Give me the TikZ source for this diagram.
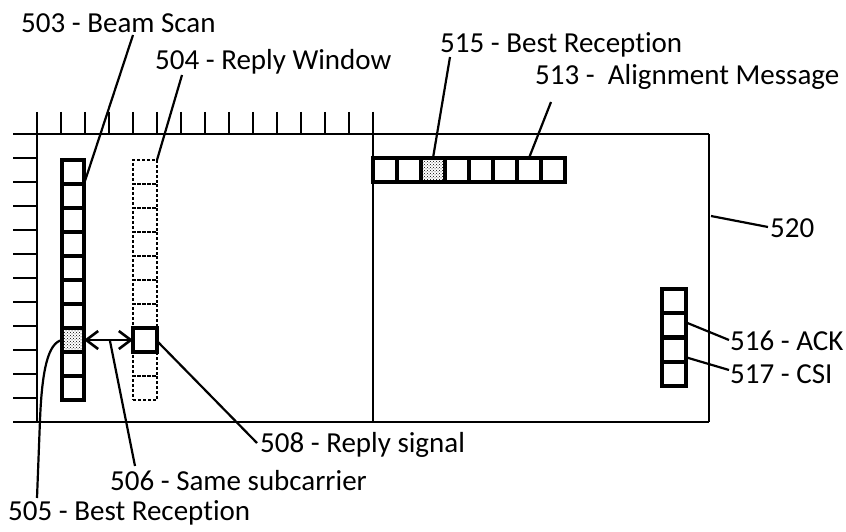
\documentclass[tikz,border=0pt]{standalone}
\usepackage{fontspec}
\setmainfont{Carlito}[RawFeature={-liga}]
\usetikzlibrary{patterns,arrows.meta}
\begin{document}
\begin{tikzpicture}[x=1pt,y=-1pt,
  frame/.style={line width=2.2pt},
  tickline/.style={line width=2pt},
  cell/.style={draw,line width=3.4pt,minimum width=22pt,minimum height=24pt,inner sep=0pt,outer sep=0pt},
  wcell/.style={cell,minimum width=24pt},
  dcell/.style={draw,line width=1.1pt,dash pattern=on 3pt off 2pt,minimum width=24pt,minimum height=24pt,inner sep=0pt,outer sep=0pt},
  best/.style={pattern=crosshatch dots},
  leader/.style={line width=2.2pt},
  barb/.style={line width=2.6pt,{Straight Barb[length=12pt,width=18pt]}-{Straight Barb[length=12pt,width=18pt]}},
  lbl/.style={inner sep=0pt,anchor=base west,font=\fontsize{29}{34}\selectfont}]
\useasboundingbox (0,0) rectangle (846,532);
% frame
\draw[frame] (13,134) -- (709,134);
\draw[frame] (13,422) -- (709,422);
\draw[frame] (37,112) -- (37,422);
\draw[frame] (709,134) -- (709,422);
\draw[frame] (373,112) -- (373,422);
\foreach \k in {1,...,14} \draw[tickline] ({37+24*\k},112) -- ({37+24*\k},134);
\foreach \k in {1,...,11} \draw[tickline] (13,{134+24*\k}) -- (37,{134+24*\k});
% reply window (dashed)
\foreach \i in {1,...,10} \node[dcell] (r\i) at (145,{172+24*(\i-1)}) {};
\node[wcell,fill=white] (r8) at (145,340) {};
% beam scan column
\foreach \i in {1,...,10} \node[cell] (b\i) at (73,{172+24*(\i-1)}) {};
\node[cell,best] (b8) at (73,340) {};
% alignment message row
\foreach \j in {1,...,8} \node[wcell] (t\j) at ({385+24*(\j-1)},170) {};
\node[wcell,best] (t3) at (433,170) {};
% ACK / CSI
\node[wcell] (a1) at (674,301) {};
\node[wcell] (a2) at (674,325) {};
\node[wcell] (c1) at (674,350) {};
\node[wcell] (c2) at (674,374) {};
% labels
\node[lbl] (l503) at (21,33) {503 - Beam Scan};
\node[lbl] (l504) at (155,70) {504 - Reply Window};
\node[lbl] (l515) at (440,53) {515 - Best Reception};
\node[lbl] (l513) at (535,85) {513 -\ \ Alignment Message};
\node[lbl] (l520) at (770,237) {520};
\node[lbl] (l516) at (730,350) {516 - ACK};
\node[lbl] (l517) at (730,383) {517 - CSI};
\node[lbl] (l508) at (260,452) {508 - Reply signal};
\node[lbl] (l506) at (110,490) {506 - Same subcarrier};
\node[lbl] (l505) at (8,520) {505 - Best Reception};
% leader end points
\coordinate (e503) at (133,35);
\coordinate (e504) at (182,75);
\coordinate (e515) at (450,57);
\coordinate (e513) at (551,102);
\coordinate (e520) at (768,227);
\coordinate (s520) at (711,216);
\coordinate (e516) at (729,340);
\coordinate (s516) at (685,322);
\coordinate (e517) at (729,370);
\coordinate (s517) at (685,357);
\coordinate (e508) at (257,443);
\coordinate (s508) at (158,342);
\coordinate (m506) at (110,341);
\coordinate (e506) at (135,466);
\coordinate (e505) at (37,498);
% leaders
\draw[leader] (b1.south east) -- (e503);
\draw[leader] (r1.north east) -- (e504);
\draw[leader] (t3.north) -- (e515);
\draw[leader] (t7.north) -- (e513);
\draw[leader] (s520) -- (e520);
\draw[leader] (s516) -- (e516);
\draw[leader] (s517) -- (e517);
\draw[leader] (s508) -- (e508);
\draw[leader] (m506) -- (e506);
\draw[leader] (b8.west) .. controls (48,343) and (42,370) .. (40,420) -- (e505);
% same subcarrier arrow
\draw[barb] (b8.east) -- (r8.west);
\end{tikzpicture}
\end{document}
